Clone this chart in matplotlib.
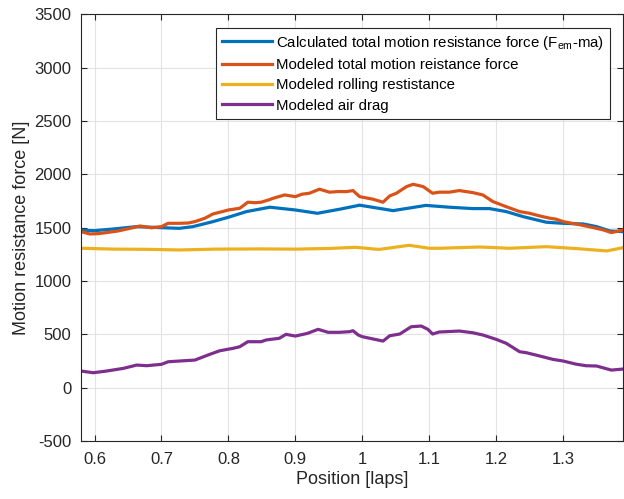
"""Motion resistance force along the lap: calculated vs modeled components."""

import matplotlib
matplotlib.use("Agg")
import matplotlib.pyplot as plt

plt.rcParams["font.family"] = ["Liberation Sans", "DejaVu Sans"]
plt.rcParams["mathtext.default"] = "regular"
plt.rcParams["axes.unicode_minus"] = False

# ── Data ──────────────────────────────────────────────────────────────

calc_x = [0.58, 0.60, 0.63, 0.663, 0.70, 0.727, 0.747, 0.777, 0.80, 0.827,
          0.862, 0.90, 0.933, 0.966, 0.996, 1.046, 1.095, 1.13, 1.165,
          1.19, 1.215, 1.24, 1.275, 1.30, 1.33, 1.35, 1.37, 1.39]
calc_y = [1477, 1473, 1490, 1511, 1501, 1495, 1511, 1558, 1599, 1652,
          1693, 1667, 1636, 1674, 1712, 1661, 1710, 1693, 1680,
          1680, 1652, 1605, 1552, 1542, 1536, 1511, 1470, 1464]

total_x = [0.58, 0.593, 0.605, 0.618, 0.635, 0.653, 0.668, 0.685, 0.70, 0.71,
           0.727, 0.74, 0.75, 0.765, 0.777, 0.79, 0.80, 0.817, 0.829, 0.84,
           0.849, 0.86, 0.867, 0.884, 0.90, 0.91, 0.921, 0.936, 0.951, 0.965,
           0.976, 0.986, 0.996, 1.016, 1.031, 1.041, 1.051, 1.066, 1.076, 1.085,
           1.091, 1.105, 1.115, 1.13, 1.145, 1.165, 1.18, 1.195, 1.215, 1.235,
           1.25, 1.265, 1.28, 1.29, 1.30, 1.315, 1.326, 1.345, 1.36, 1.372,
           1.39]
total_y = [1464, 1442, 1445, 1455, 1470, 1495, 1517, 1500, 1511, 1542,
           1542, 1545, 1558, 1590, 1630, 1650, 1667, 1683, 1740, 1735,
           1740, 1761, 1777, 1808, 1792, 1815, 1824, 1862, 1834, 1840,
           1839, 1849, 1792, 1768, 1740, 1799, 1824, 1886, 1908, 1895,
           1886, 1824, 1834, 1834, 1849, 1830, 1808, 1746, 1698, 1652,
           1636, 1611, 1590, 1580, 1558, 1540, 1527, 1502, 1480, 1455,
           1480]

roll_x = [0.58, 0.63, 0.68, 0.727, 0.78, 0.847, 0.90, 0.95, 0.99, 1.025,
          1.07, 1.10, 1.115, 1.175, 1.22, 1.275, 1.32, 1.365, 1.39]
roll_y = [1308, 1300, 1298, 1292, 1300, 1302, 1300, 1306, 1317, 1297,
          1336, 1308, 1308, 1320, 1308, 1323, 1305, 1283, 1314]

air_x = [0.58, 0.598, 0.618, 0.643, 0.663, 0.678, 0.70, 0.71, 0.727, 0.75,
         0.772, 0.787, 0.807, 0.817, 0.829, 0.849, 0.856, 0.876, 0.886, 0.90,
         0.918, 0.934, 0.949, 0.966, 0.981, 0.986, 0.994, 1.0, 1.031, 1.041,
         1.056, 1.073, 1.088, 1.098, 1.105, 1.115, 1.145, 1.165, 1.18, 1.20,
         1.215, 1.235, 1.245, 1.265, 1.285, 1.30, 1.319, 1.334, 1.35, 1.372,
         1.39]
air_y = [157, 141, 157, 182, 213, 207, 220, 244, 251, 260,
         313, 347, 370, 385, 432, 432, 448, 464, 501, 485,
         510, 548, 520, 520, 526, 535, 495, 479, 438, 488,
         504, 572, 579, 548, 504, 523, 532, 516, 495, 454,
         417, 338, 329, 298, 266, 251, 222, 207, 204, 166,
         176]

labels = [
    "Calculated total motion resistance force (F$_{em}$-ma)",
    "Modeled total motion reistance force",
    "Modeled rolling restistance",
    "Modeled air drag",
]
colours = ["#0072BD", "#D95319", "#EDB120", "#7E2F8E"]

# ── Plot ──────────────────────────────────────────────────────────────

fig = plt.figure(figsize=(6.24, 4.99), dpi=100)
ax = fig.add_axes([0.130, 0.116, 0.869, 0.855])

series = [(calc_x, calc_y), (total_x, total_y), (roll_x, roll_y), (air_x, air_y)]
for (xs, ys), lab, col in zip(series, labels, colours):
    ax.plot(xs, ys, color=col, linewidth=2.3, label=lab)

ax.set_xlim(0.58, 1.39)
ax.set_ylim(-500, 3500)
ax.set_xticks([0.6, 0.7, 0.8, 0.9, 1.0, 1.1, 1.2, 1.3])
ax.set_xticklabels(["0.6", "0.7", "0.8", "0.9", "1", "1.1", "1.2", "1.3"])
ax.set_yticks(range(-500, 3501, 500))
ax.tick_params(direction="in", top=True, right=True, labelsize=12,
               colors="#262626", length=4)
ax.tick_params(axis="y", pad=7)
ax.tick_params(axis="x", pad=8)
ax.grid(color="#e3e3e3", linewidth=0.8)
ax.set_axisbelow(True)
for sp in ax.spines.values():
    sp.set_color("#262626")
    sp.set_linewidth(0.8)

ax.set_xlabel("Position [laps]", fontsize=13, color="#262626", labelpad=3)
ax.set_ylabel("Motion resistance force [N]", fontsize=13, color="#262626",
              labelpad=3)

leg = ax.legend(loc="upper right", bbox_to_anchor=(0.976, 0.969), fontsize=10.8,
                frameon=True, fancybox=False, framealpha=1, edgecolor="#262626",
                handlelength=3.3, handletextpad=0.3, borderpad=0.4,
                labelspacing=0.42, borderaxespad=0)
leg.get_frame().set_linewidth(0.8)

fig.savefig("out.png", dpi=100)
